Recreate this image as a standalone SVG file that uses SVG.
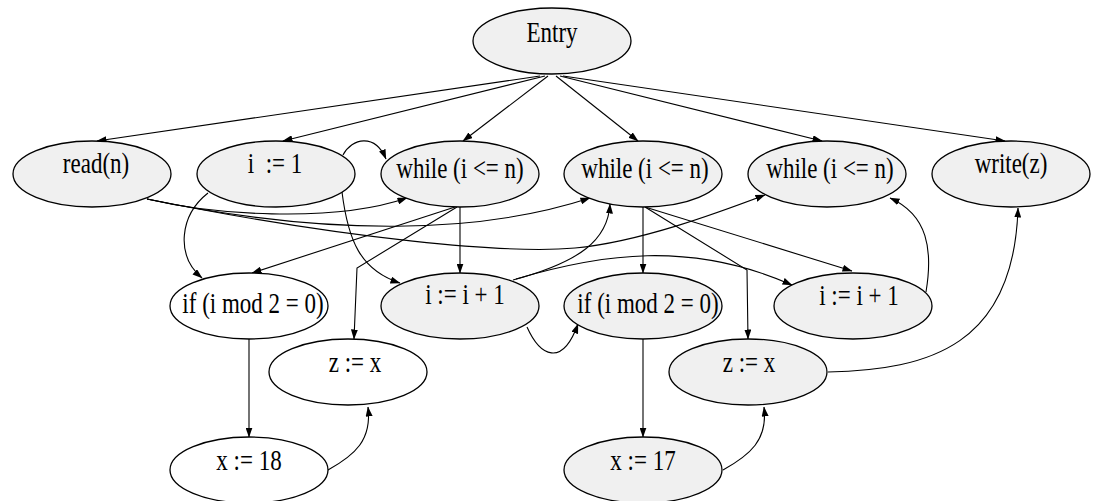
<svg xmlns="http://www.w3.org/2000/svg" width="1099" height="501" viewBox="0 0 1099 501">
<style>
.n{stroke:#000;stroke-width:1.3}
.g{fill:#f0f0f0}
.w{fill:#fff}
.t{font-family:"Liberation Serif","Times New Roman",serif;font-size:23px;fill:#000;text-anchor:middle}
.e{fill:none;stroke:#000;stroke-width:1.1;marker-end:url(#ah)}
</style>
<defs>
<marker id="ah" markerUnits="userSpaceOnUse" markerWidth="10" markerHeight="7" refX="9.5" refY="3.5" orient="auto">
<path d="M0,0 L10,3.5 L0,7 z" fill="#000"/>
</marker>
</defs>
<rect width="1099" height="501" fill="#fff"/>
<g id="connectors">
<path class="e" d="M540,76 L97,141"/>
<path class="e" d="M545,76 L283,141"/>
<path class="e" d="M548,76 L463,141"/>
<path class="e" d="M556,76 L638,141"/>
<path class="e" d="M560,76 L822,141"/>
<path class="e" d="M563,76 L1005,141"/>
<path class="e" d="M343,155 C352,138 375,133 386,159"/>
<path class="e" d="M147,199 C210,214 330,224 407,198"/>
<path class="e" d="M147,199 C330,237 480,234 590,198"/>
<path class="e" d="M147,199 C350,240 510,254 575,248 S720,212 765,195"/>
<path class="e" d="M208,193 C180,215 175,255 202,278"/>
<path class="e" d="M342,192 C348,240 360,270 400,283"/>
<path class="e" d="M455,207 L252,273"/>
<path class="e" d="M457,207 L357,268 L354,339"/>
<path class="e" d="M460,207 L460,273"/>
<path class="e" d="M513,280 C580,262 608,240 610,204"/>
<path class="e" d="M516,279 C600,254 690,240 792,285"/>
<path class="e" d="M643,207 L643,273"/>
<path class="e" d="M645,207 L852,271"/>
<path class="e" d="M645,207 L747,270 L748,339"/>
<path class="e" d="M926,292 C933,250 928,215 890,198"/>
<path class="e" d="M828,372 C930,370 1014,345 1018,208"/>
<path class="e" d="M527,327 C540,356 562,368 578,324"/>
<path class="e" d="M249,339 L249,437"/>
<path class="e" d="M328,470 C355,455 372,440 368,407"/>
<path class="e" d="M643,339 L643,437"/>
<path class="e" d="M723,470 C750,455 768,440 764,407"/>
</g>
<g id="entry"><ellipse class="n g" cx="552" cy="41" rx="79" ry="33"/><text class="t" transform="translate(552,42) scale(1,1.25)">Entry</text></g>
<g id="read"><ellipse class="n g" cx="92" cy="174" rx="79" ry="33"/><text class="t" transform="translate(96,173) scale(1,1.25)">read(n)</text></g>
<g id="i1"><ellipse class="n g" cx="276" cy="174" rx="79" ry="33"/><text class="t" xml:space="preserve" transform="translate(275,173) scale(1,1.25)">i  := 1</text></g>
<g id="while1"><ellipse class="n g" cx="460" cy="174" rx="79" ry="33"/><text class="t" transform="translate(460,178) scale(1,1.25)">while (i &lt;= n)</text></g>
<g id="while2"><ellipse class="n g" cx="643" cy="174" rx="79" ry="33"/><text class="t" transform="translate(645,178) scale(1,1.25)">while (i &lt;= n)</text></g>
<g id="while3"><ellipse class="n g" cx="827" cy="174" rx="79" ry="33"/><text class="t" transform="translate(830,178) scale(1,1.25)">while (i &lt;= n)</text></g>
<g id="write"><ellipse class="n g" cx="1011" cy="174" rx="79" ry="33"/><text class="t" transform="translate(1011,173) scale(1,1.25)">write(z)</text></g>
<g id="if1"><ellipse class="n w" cx="249" cy="306" rx="79" ry="33"/><text class="t" transform="translate(253,313) scale(1,1.25)">if (i mod 2 = 0)</text></g>
<g id="inc1"><ellipse class="n g" cx="460" cy="306" rx="79" ry="33"/><text class="t" transform="translate(465,304) scale(1,1.25)">i := i + 1</text></g>
<g id="if2"><ellipse class="n g" cx="643" cy="306" rx="79" ry="33"/><text class="t" transform="translate(648,313) scale(1,1.25)">if (i mod 2 = 0)</text></g>
<g id="inc2"><ellipse class="n g" cx="853" cy="306" rx="79" ry="33"/><text class="t" transform="translate(859,305) scale(1,1.25)">i := i + 1</text></g>
<g id="zx1"><ellipse class="n w" cx="348" cy="372" rx="79" ry="33"/><text class="t" transform="translate(355,372) scale(1,1.25)">z := x</text></g>
<g id="zx2"><ellipse class="n g" cx="748" cy="372" rx="79" ry="33"/><text class="t" transform="translate(749,372) scale(1,1.25)">z := x</text></g>
<g id="x18"><ellipse class="n w" cx="249" cy="470" rx="79" ry="33"/><text class="t" transform="translate(249,470) scale(1,1.25)">x := 18</text></g>
<g id="x17"><ellipse class="n g" cx="643" cy="470" rx="79" ry="33"/><text class="t" transform="translate(643,470) scale(1,1.25)">x := 17</text></g>
</svg>
